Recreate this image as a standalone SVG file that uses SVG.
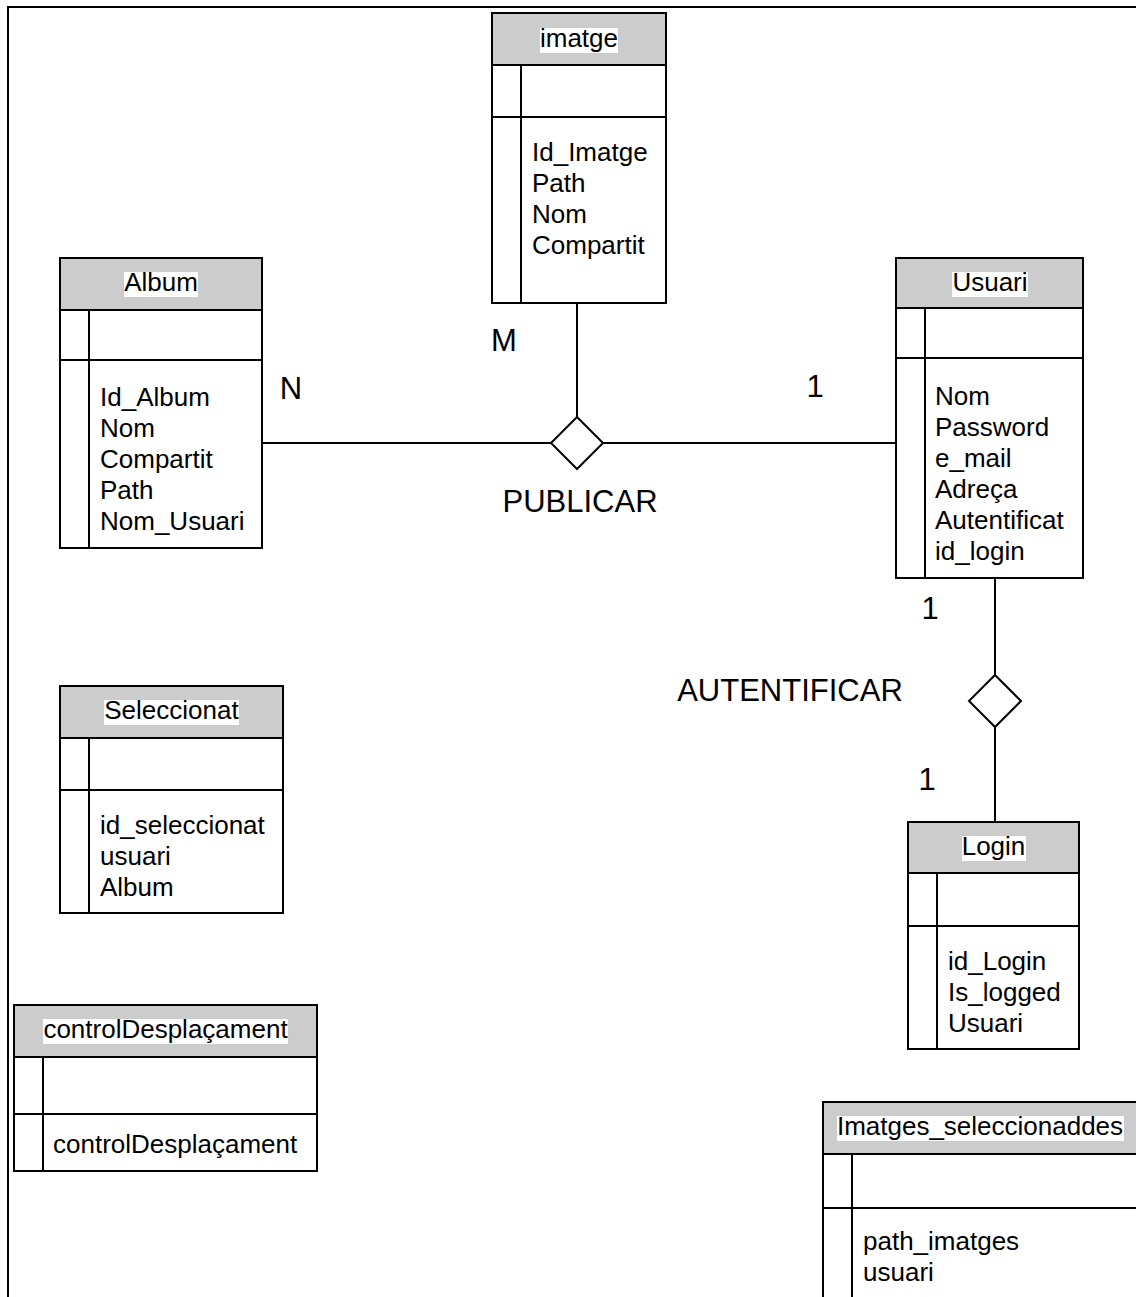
<svg xmlns="http://www.w3.org/2000/svg" width="1136" height="1297" viewBox="0 0 1136 1297">
<style>
.b{fill:#fff;stroke:#000;stroke-width:2}
.h{fill:#ccc;stroke:#000;stroke-width:2}
.l{stroke:#000;stroke-width:2;fill:none}
.hl{fill:#fff}
text{font-family:"Liberation Sans",Arial,sans-serif;font-size:26px;fill:#000}
.c{text-anchor:middle}
.r{font-size:31px}
</style>
<rect width="1136" height="1297" fill="#fff"/>
<path class="l" d="M8,1297 V7 H1136"/>
<g id="connectors">
<line class="l" x1="577" y1="303" x2="577" y2="417"/>
<line class="l" x1="262" y1="443" x2="551" y2="443"/>
<line class="l" x1="603" y1="443" x2="896" y2="443"/>
<polygon class="b" points="577,417 603,443 577,469 551,443"/>
<line class="l" x1="995" y1="578" x2="995" y2="675"/>
<line class="l" x1="995" y1="727" x2="995" y2="822"/>
<polygon class="b" points="995,675 1021,701 995,727 969,701"/>
<text class="r" x="504" y="351" text-anchor="middle">M</text>
<text class="r" x="291" y="399" text-anchor="middle">N</text>
<text class="r" x="815" y="397" text-anchor="middle">1</text>
<text class="r" x="580" y="512" text-anchor="middle">PUBLICAR</text>
<text class="r" x="930" y="619" text-anchor="middle">1</text>
<text class="r" x="790" y="701" text-anchor="middle">AUTENTIFICAR</text>
<text class="r" x="927" y="790" text-anchor="middle">1</text>
</g>
<g id="imatge">
<rect class="b" x="492" y="13" width="174" height="290"/>
<rect class="h" x="492" y="13" width="174" height="52"/>
<line class="l" x1="492" y1="117" x2="666" y2="117"/>
<line class="l" x1="521" y1="65" x2="521" y2="303"/>
<rect class="hl" x="540" y="28" width="78" height="25"/>
<text class="c" x="579" y="47">imatge</text>
<text x="532" y="161">Id_Imatge</text>
<text x="532" y="192">Path</text>
<text x="532" y="223">Nom</text>
<text x="532" y="254">Compartit</text>
</g>
<g id="album">
<rect class="b" x="60" y="258" width="202" height="290"/>
<rect class="h" x="60" y="258" width="202" height="52"/>
<line class="l" x1="60" y1="360" x2="262" y2="360"/>
<line class="l" x1="89" y1="310" x2="89" y2="548"/>
<rect class="hl" x="124" y="272" width="74" height="25"/>
<text class="c" x="161" y="291">Album</text>
<text x="100" y="406">Id_Album</text>
<text x="100" y="437">Nom</text>
<text x="100" y="468">Compartit</text>
<text x="100" y="499">Path</text>
<text x="100" y="530">Nom_Usuari</text>
</g>
<g id="usuari">
<rect class="b" x="896" y="258" width="187" height="320"/>
<rect class="h" x="896" y="258" width="187" height="50"/>
<line class="l" x1="896" y1="358" x2="1083" y2="358"/>
<line class="l" x1="925" y1="308" x2="925" y2="578"/>
<rect class="hl" x="952" y="272" width="76" height="25"/>
<text class="c" x="990" y="291">Usuari</text>
<text x="935" y="405">Nom</text>
<text x="935" y="436">Password</text>
<text x="935" y="467">e_mail</text>
<text x="935" y="498">Adreça</text>
<text x="935" y="529">Autentificat</text>
<text x="935" y="560">id_login</text>
</g>
<g id="seleccionat">
<rect class="b" x="60" y="686" width="223" height="227"/>
<rect class="h" x="60" y="686" width="223" height="52"/>
<line class="l" x1="60" y1="790" x2="283" y2="790"/>
<line class="l" x1="89" y1="738" x2="89" y2="913"/>
<rect class="hl" x="104" y="700" width="135" height="25"/>
<text class="c" x="171.5" y="719">Seleccionat</text>
<text x="100" y="834">id_seleccionat</text>
<text x="100" y="865">usuari</text>
<text x="100" y="896">Album</text>
</g>
<g id="controlDesplacament">
<rect class="b" x="14" y="1005" width="303" height="166"/>
<rect class="h" x="14" y="1005" width="303" height="52"/>
<line class="l" x1="14" y1="1114" x2="317" y2="1114"/>
<line class="l" x1="43" y1="1057" x2="43" y2="1171"/>
<rect class="hl" x="43" y="1019" width="245" height="25"/>
<text class="c" x="165.5" y="1038">controlDesplaçament</text>
<text x="53" y="1153">controlDesplaçament</text>
</g>
<g id="login">
<rect class="b" x="908" y="822" width="171" height="227"/>
<rect class="h" x="908" y="822" width="171" height="51"/>
<line class="l" x1="908" y1="926" x2="1079" y2="926"/>
<line class="l" x1="937" y1="873" x2="937" y2="1049"/>
<rect class="hl" x="962" y="836" width="64" height="25"/>
<text class="c" x="993.5" y="855">Login</text>
<text x="948" y="970">id_Login</text>
<text x="948" y="1001">Is_logged</text>
<text x="948" y="1032">Usuari</text>
</g>
<g id="imatges_seleccionaddes">
<rect class="b" x="823" y="1102" width="320" height="220"/>
<rect class="h" x="823" y="1102" width="320" height="52"/>
<line class="l" x1="823" y1="1208" x2="1143" y2="1208"/>
<line class="l" x1="852" y1="1154" x2="852" y2="1322"/>
<rect class="hl" x="837" y="1116" width="287" height="25"/>
<text class="c" x="980" y="1135">Imatges_seleccionaddes</text>
<text x="863" y="1250">path_imatges</text>
<text x="863" y="1281">usuari</text>
</g>
</svg>
